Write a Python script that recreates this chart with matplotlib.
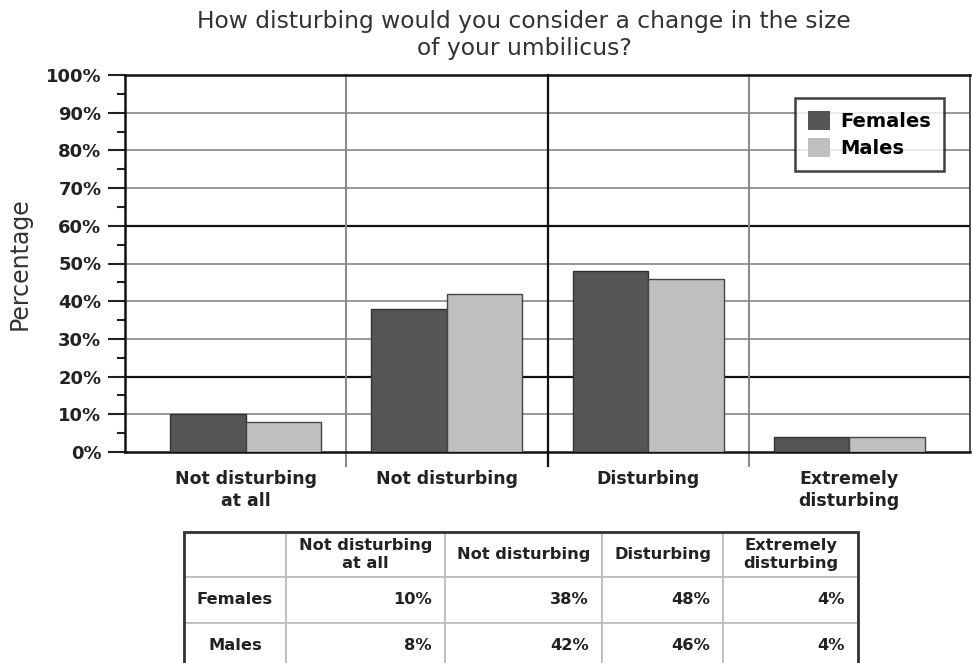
import numpy as np
import matplotlib
matplotlib.use("Agg")
import matplotlib.pyplot as plt
from matplotlib.patches import Rectangle
import matplotlib.transforms as mtransforms

categories = ["Not disturbing\nat all", "Not disturbing", "Disturbing", "Extremely\ndisturbing"]
table_headers = ["Not disturbing\nat all", "Not disturbing", "Disturbing", "Extremely\ndisturbing"]
females = [10, 38, 48, 4]
males = [8, 42, 46, 4]
series_names = ["Females", "Males"]
title = "How disturbing would you consider a change in the size\nof your umbilicus?"

W, H = 972, 663
fig = plt.figure(figsize=(W / 100, H / 100), dpi=100)

def px_axes(x0, y0, x1, y1):
    # pixel box (top-left origin) -> figure fraction
    return [x0 / W, 1 - y1 / H, (x1 - x0) / W, (y1 - y0) / H]

ax = fig.add_axes(px_axes(125, 75, 970, 452))

x = np.arange(len(categories))
bw = 0.375
ax.bar(x - bw / 2, females, bw, color="#555555", edgecolor="#333333", linewidth=1, label=series_names[0], zorder=3)
ax.bar(x + bw / 2, males, bw, color="#bfbfbf", edgecolor="#444444", linewidth=1, label=series_names[1], zorder=3)

ax.set_xlim(-0.6, 3.6)
ax.set_ylim(0, 100)

# horizontal grid: heavier lines at 20 and 60
for v in range(10, 100, 10):
    if v in (20, 60):
        ax.axhline(v, color="#111111", lw=1.6, zorder=1)
    else:
        ax.axhline(v, color="#999999", lw=1.4, zorder=1)

# category separators, drawn a little below the axis
trans = mtransforms.blended_transform_factory(ax.transData, ax.transAxes)
for s in (0.5, 1.5, 2.5):
    heavy = s == 1.5
    ax.plot([s, s], [-0.037, 1], transform=trans, clip_on=False,
            color="#111111" if heavy else "#888888", lw=1.6 if heavy else 1.4, zorder=1)

for side in ("top", "left", "bottom"):
    ax.spines[side].set_linewidth(1.8)
    ax.spines[side].set_color("#111111")
ax.spines["right"].set_linewidth(1.2)
ax.spines["right"].set_color("#333333")

ax.set_yticks(np.arange(0, 101, 10))
ax.set_yticklabels([f"{v}%" for v in range(0, 101, 10)], fontsize=13, fontweight="bold", color="#222222")
ax.set_yticks(np.arange(5, 100, 10), minor=True)
ax.tick_params(axis="y", which="major", length=12, width=1.5, color="#222222", pad=5)
ax.tick_params(axis="y", which="minor", length=6, width=1.5, color="#222222")
ax.set_xticks(x)
ax.set_xticklabels(categories, fontsize=12.5, fontweight="bold", color="#222222", linespacing=1.3)
ax.tick_params(axis="x", length=0, pad=13)

ax.set_ylabel("Percentage", fontsize=17, color="#333333", labelpad=10)

leg = ax.legend(loc="upper right", bbox_to_anchor=(0.969, 0.939), borderaxespad=0,
                frameon=True, fancybox=False,
                prop={"size": 14, "weight": "bold"}, handlelength=1.13, handleheight=1.13,
                handletextpad=0.55, borderpad=0.65, labelspacing=0.39)
leg.get_frame().set_edgecolor("#111111")
leg.get_frame().set_linewidth(1.8)
for h in leg.legend_handles:
    h.set_edgecolor("none")

fig.text(524 / W, 1 - 35 / H, title, ha="center", va="center", fontsize=16.8,
         color="#333333", linespacing=1.2)

# data table below the chart
col_px = np.array([102, 159, 157, 121, 135], dtype=float)
row_px = np.array([45, 46, 46], dtype=float)
tax = fig.add_axes(px_axes(184, 532, 184 + col_px.sum(), 532 + row_px.sum()))
tax.axis("off")
rows = [[""] + table_headers,
        [series_names[0]] + [f"{v}%" for v in females],
        [series_names[1]] + [f"{v}%" for v in males]]
tbl = tax.table(cellText=rows, bbox=[0, 0, 1, 1], cellLoc="center")
tbl.auto_set_font_size(False)
for (r, c), cell in tbl.get_celld().items():
    cell.set_width(col_px[c] / col_px.sum())
    cell.set_height(row_px[r] / row_px.sum())
    cell.set_edgecolor("#bbbbbb")
    cell.set_linewidth(1.2)
    txt = cell.get_text()
    txt.set_fontsize(11.7)
    txt.set_fontweight("bold")
    txt.set_color("#222222")
    txt.set_linespacing(1.2)
    if r > 0 and c > 0:
        txt.set_ha("right")
        cell.PAD = 13 / col_px[c]
tax.add_patch(Rectangle((0, 0), 1, 1, transform=tax.transAxes, fill=False,
                        edgecolor="#333333", lw=2, clip_on=False))

fig.savefig("out.png", dpi=100)
